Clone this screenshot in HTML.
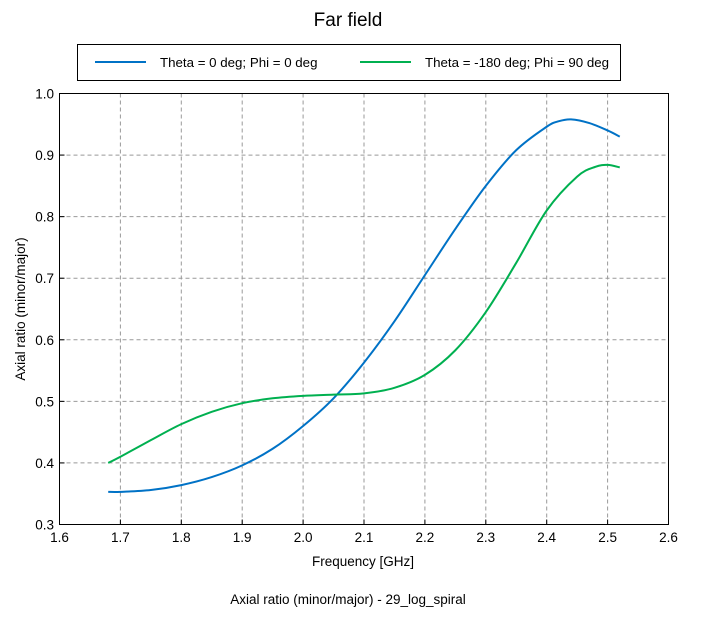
<!DOCTYPE html>
<html><head><meta charset="utf-8"><style>
html,body{margin:0;padding:0;background:#fff;}
body{width:703px;height:621px;overflow:hidden;font-family:"Liberation Sans",sans-serif;}
text{font-family:"Liberation Sans",sans-serif;}
</style></head><body>
<svg id="chart" width="703" height="621" viewBox="0 0 703 621" xmlns="http://www.w3.org/2000/svg">
<text x="348" y="26" text-anchor="middle" font-size="19" fill="#000">Far field</text>
<g>
<rect x="77.5" y="44.5" width="543" height="36" fill="#fff" stroke="#000" stroke-width="1"/>
<line x1="95" y1="62" x2="146" y2="62" stroke="#0072c6" stroke-width="2"/>
<text x="160" y="67" font-size="13.3">Theta = 0 deg; Phi = 0 deg</text>
<line x1="360" y1="62" x2="411" y2="62" stroke="#00b050" stroke-width="2"/>
<text x="425" y="67" font-size="13.3">Theta = -180 deg; Phi = 90 deg</text>
</g>
<g id="grid"></g>
<g id="axes"></g>
<g id="series"></g>
<rect x="59.5" y="93.5" width="609" height="431" fill="none" stroke="#000" stroke-width="1"/>
<text x="363" y="566" text-anchor="middle" font-size="13.5">Frequency [GHz]</text>
<text transform="translate(25,309) rotate(-90)" text-anchor="middle" font-size="13.5">Axial ratio (minor/major)</text>
<text x="348" y="604" text-anchor="middle" font-size="13.5">Axial ratio (minor/major) - 29_log_spiral</text>
</svg>
<script>
const xTicks=[1.6,1.7,1.8,1.9,2.0,2.1,2.2,2.3,2.4,2.5,2.6];
const yTicks=[0.3,0.4,0.5,0.6,0.7,0.8,0.9,1.0];
const freqBlue=[1.68,1.7,1.75,1.8,1.85,1.9,1.95,2.0,2.05,2.1,2.15,2.2,2.25,2.3,2.35,2.4,2.42,2.44,2.47,2.5,2.52];
const arBlue=[0.353,0.353,0.356,0.364,0.377,0.396,0.423,0.46,0.505,0.563,0.63,0.705,0.78,0.85,0.908,0.946,0.955,0.958,0.952,0.94,0.93];
const freqGreen=[1.68,1.7,1.75,1.8,1.85,1.9,1.95,2.0,2.05,2.1,2.15,2.2,2.25,2.3,2.35,2.4,2.45,2.48,2.5,2.52];
const arGreen=[0.4,0.41,0.437,0.463,0.483,0.497,0.505,0.509,0.511,0.513,0.522,0.543,0.583,0.645,0.725,0.81,0.865,0.881,0.884,0.88];
const NS="http://www.w3.org/2000/svg";
const X0=59.5,X1=668.5,Y0=524.5,Y1=93.5;
function xs(v){return X0+(v-1.6)/(1.0)*(X1-X0);}
function ys(v){return Y0-(v-0.3)/(0.7)*(Y0-Y1);}
function mk(t,a,p){const e=document.createElementNS(NS,t);for(const k in a)e.setAttribute(k,a[k]);p.appendChild(e);return e;}
const grid=document.getElementById('grid'),axes=document.getElementById('axes'),ser=document.getElementById('series');
xTicks.forEach((t,i)=>{
 const x=xs(t);
 if(i>0&&i<xTicks.length-1){const l=mk('line',{x1:x,y1:Y1,x2:x,y2:Y0,stroke:'#999','stroke-dasharray':'4,3','stroke-width':1},grid);
 
 }
 const tk=mk('line',{x1:x,y1:Y0,x2:x,y2:Y0-5,stroke:'#000'},axes);
 
 
 const tx=mk('text',{x:x,y:542,'text-anchor':'middle','font-size':13.5},axes);tx.textContent=t.toFixed(1);
 
 
});
yTicks.forEach((t,i)=>{
 const y=ys(t);
 if(i>0&&i<yTicks.length-1){const l=mk('line',{x1:X0,y1:y,x2:X1,y2:y,stroke:'#999','stroke-dasharray':'4,3','stroke-width':1},grid);
 
 }
 const tk=mk('line',{x1:X0,y1:y,x2:X0+5,y2:y,stroke:'#000'},axes);
 
 
 const tx=mk('text',{x:54,y:y+5,'text-anchor':'end','font-size':13.5},axes);tx.textContent=t.toFixed(1);
 
 
});
function smooth(fx,fy){
 const p=fx.map((f,i)=>[xs(f),ys(fy[i])]);
 let d='M'+p[0][0]+','+p[0][1];
 for(let i=0;i<p.length-1;i++){
  const p0=p[Math.max(0,i-1)],p1=p[i],p2=p[i+1],p3=p[Math.min(p.length-1,i+2)];
  const c1=[p1[0]+(p2[0]-p0[0])/6,p1[1]+(p2[1]-p0[1])/6];
  const c2=[p2[0]-(p3[0]-p1[0])/6,p2[1]-(p3[1]-p1[1])/6];
  d+=' C'+c1+' '+c2+' '+p2;
 }
 return d;
}
const b=mk('path',{d:smooth(freqBlue,arBlue),fill:'none',stroke:'#0072c6','stroke-width':2},ser);


const g=mk('path',{d:smooth(freqGreen,arGreen),fill:'none',stroke:'#00b050','stroke-width':2},ser);


</script>
</body></html>
